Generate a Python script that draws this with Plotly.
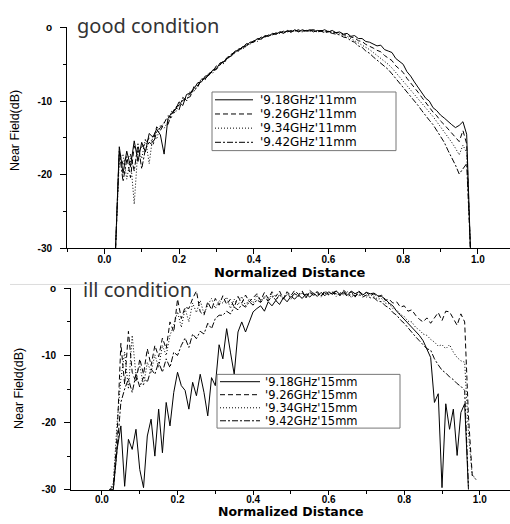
import plotly.graph_objects as go

# ---------------- data ----------------
X_GOOD = [0.03, 0.04, 0.05, 0.06, 0.07, 0.08, 0.09, 0.10, 0.11, 0.12,
          0.13, 0.14, 0.15, 0.16, 0.17, 0.18, 0.19, 0.20, 0.21, 0.22,
          0.23, 0.24, 0.25, 0.26, 0.27, 0.28, 0.29, 0.30, 0.31, 0.32,
          0.33, 0.34, 0.35, 0.36, 0.37, 0.38, 0.39, 0.40, 0.41, 0.42,
          0.43, 0.44, 0.45, 0.46, 0.47, 0.48, 0.49, 0.50, 0.51, 0.52,
          0.53, 0.54, 0.55, 0.56, 0.57, 0.58, 0.59, 0.60, 0.61, 0.62,
          0.63, 0.64, 0.65, 0.66, 0.67, 0.68, 0.69, 0.70, 0.71, 0.72,
          0.73, 0.74, 0.75, 0.76, 0.77, 0.78, 0.79, 0.80, 0.81, 0.82,
          0.83, 0.84, 0.85, 0.86, 0.87, 0.88, 0.89, 0.90, 0.91, 0.92,
          0.93, 0.94, 0.95, 0.96, 0.97, 0.98]

GOOD_918 = [-30, -16.2, -19.8, -16.8, -18.9, -15.4, -18.2, -15.6, -16.9, -14.4,
            -14.9, -13.8, -14.6, -17.2, -12.4, -11.6, -11.2, -10.1, -10.6, -9.1,
            -8.9, -8.3, -7.5, -7.4, -6.6, -6.5, -5.8, -5.6, -4.8, -4.7,
            -4.0, -3.9, -3.2, -3.1, -2.6, -2.5, -2.0, -1.9, -1.5, -1.6,
            -1.1, -1.2, -0.8, -0.9, -0.6, -0.8, -0.4, -0.6, -0.3, -0.6,
            -0.3, -0.5, -0.3, -0.6, -0.4, -0.5, -0.3, -0.6, -0.4, -0.7,
            -0.6, -0.9, -0.8, -1.2, -1.1, -1.5, -1.5, -1.9, -2.0, -2.2,
            -2.5, -2.4, -3.0, -3.2, -3.4, -4.2, -4.6, -5.0, -6.0, -6.6,
            -7.4, -8.1, -8.8, -9.6, -10.0, -10.9, -11.3, -11.9, -12.3, -12.8,
            -13.2, -13.6, -13.3, -12.8, -14.5, -30]
GOOD_926 = [-30, -17.0, -18.6, -17.5, -20.4, -16.1, -17.0, -16.2, -15.8, -15.0,
            -15.6, -13.5, -14.0, -13.1, -12.0, -12.2, -10.8, -10.6, -9.9, -9.6,
            -9.4, -8.0, -7.9, -7.2, -6.9, -6.3, -6.0, -5.2, -5.1, -4.4,
            -4.2, -3.6, -3.4, -2.9, -2.8, -2.2, -2.2, -1.8, -1.7, -1.3,
            -1.3, -1.0, -1.0, -0.7, -0.7, -0.5, -0.6, -0.4, -0.5, -0.3,
            -0.5, -0.4, -0.4, -0.3, -0.5, -0.4, -0.5, -0.5, -0.6, -0.7,
            -0.7, -1.0, -1.0, -1.3, -1.4, -1.8, -1.9, -2.3, -2.5, -2.8,
            -3.1, -3.3, -3.8, -4.1, -4.5, -5.2, -5.6, -6.1, -6.9, -7.5,
            -8.2, -8.8, -9.5, -10.2, -10.8, -11.5, -12.0, -12.7, -13.2, -13.8,
            -14.4, -15.0, -15.5, -14.0, -15.8, -30]
GOOD_934 = [-30, -18.0, -17.2, -20.6, -17.8, -24.0, -16.4, -17.8, -15.1, -18.5,
            -14.6, -15.2, -13.3, -13.7, -12.8, -11.4, -11.6, -10.4, -9.8, -10.0,
            -8.6, -8.7, -7.7, -7.0, -7.1, -6.1, -6.2, -5.5, -4.9, -4.9,
            -4.1, -3.8, -3.5, -2.9, -3.0, -2.3, -2.3, -1.8, -1.9, -1.4,
            -1.3, -1.1, -1.0, -0.8, -0.8, -0.6, -0.5, -0.7, -0.4, -0.5,
            -0.6, -0.4, -0.5, -0.4, -0.6, -0.5, -0.6, -0.5, -0.7, -0.8,
            -0.8, -1.1, -1.2, -1.5, -1.7, -2.1, -2.3, -2.7, -3.0, -3.4,
            -3.8, -4.1, -4.6, -5.0, -5.5, -6.1, -6.6, -7.2, -7.8, -8.4,
            -9.0, -9.6, -10.2, -10.9, -11.5, -12.1, -12.8, -13.5, -14.1, -14.9,
            -15.6, -16.4, -17.3, -16.0, -17.0, -30]
GOOD_942 = [-30, -16.8, -20.9, -18.0, -17.2, -19.5, -15.8, -19.2, -16.5, -15.6,
            -16.0, -14.2, -13.6, -12.9, -13.2, -11.8, -10.9, -11.2, -9.5, -9.9,
            -9.0, -8.5, -8.1, -7.0, -7.0, -6.4, -5.8, -5.7, -5.0, -4.6,
            -4.3, -3.7, -3.3, -3.2, -2.7, -2.6, -2.1, -2.0, -1.6, -1.5,
            -1.2, -1.1, -0.9, -0.9, -0.6, -0.7, -0.5, -0.6, -0.4, -0.5,
            -0.4, -0.5, -0.5, -0.4, -0.6, -0.5, -0.7, -0.6, -0.8, -0.9,
            -1.0, -1.3, -1.4, -1.8, -2.0, -2.5, -2.7, -3.2, -3.5, -4.0,
            -4.4, -4.8, -5.3, -5.7, -6.3, -6.9, -7.5, -8.1, -8.7, -9.3,
            -10.0, -10.6, -11.3, -12.0, -12.6, -13.2, -14.0, -14.8, -15.6, -16.7,
            -17.6, -18.7, -19.9, -19.2, -18.5, -30]

X_ILL = [0.02, 0.03, 0.04, 0.05, 0.06, 0.07, 0.08, 0.09, 0.10, 0.11,
         0.12, 0.13, 0.14, 0.15, 0.16, 0.17, 0.18, 0.19, 0.20, 0.21,
         0.22, 0.23, 0.24, 0.25, 0.26, 0.27, 0.28, 0.29, 0.30, 0.31,
         0.32, 0.33, 0.34, 0.35, 0.36, 0.37, 0.38, 0.39, 0.40, 0.41,
         0.42, 0.43, 0.44, 0.45, 0.46, 0.47, 0.48, 0.49, 0.50, 0.51,
         0.52, 0.53, 0.54, 0.55, 0.56, 0.57, 0.58, 0.59, 0.60, 0.61,
         0.62, 0.63, 0.64, 0.65, 0.66, 0.67, 0.68, 0.69, 0.70, 0.71,
         0.72, 0.73, 0.74, 0.75, 0.76, 0.77, 0.78, 0.79, 0.80, 0.81,
         0.82, 0.83, 0.84, 0.85, 0.86, 0.87, 0.88, 0.89, 0.90, 0.91,
         0.92, 0.93, 0.94, 0.95, 0.96, 0.97, 0.98, 0.99]

ILL_918 = [-30, -30, -24.0, -20.5, -29.5, -22.5, -24.0, -21.0, -27.0, -29.7,
           -22.0, -19.5, -25.0, -18.0, -24.5, -17.0, -20.5, -15.5, -12.5, -14.5,
           -15.2, -18.0, -14.0, -16.0, -12.8, -15.5, -19.0, -13.3, -14.5, -8.4,
           -10.5, -6.0, -9.5, -12.8, -6.5, -5.0, -6.5, -5.0, -3.5, -3.0,
           -2.6, -3.4, -2.0, -2.6, -1.8, -2.4, -1.4, -2.0, -1.2, -1.6,
           -1.0, -1.5, -0.8, -1.3, -0.7, -1.2, -0.6, -1.1, -0.5, -0.9,
           -0.4, -0.9, -0.5, -1.0, -0.4, -0.8, -0.5, -1.0, -0.6, -0.8,
           -0.7, -1.1, -1.2, -1.6, -2.2, -2.6, -3.4, -4.0, -4.6, -5.3,
           -5.8, -6.4, -7.0, -7.8, -9.0, -10.3, -17.0, -15.7, -29.7, -17.2,
           -21.0, -18.0, -24.9, -18.5, -17.2, -30, None, None]
ILL_926 = [-30, -29.5, -22.0, -8.2, -14.3, -6.4, -12.5, -14.0, -10.5, -12.8,
           -9.0, -11.5, -8.5, -10.2, -7.4, -9.0, -5.0, -6.5, -1.6, -4.5,
           -2.8, -3.0, -1.5, -0.4, -3.5, -4.0, -2.0, -3.2, -1.5, -2.5,
           -1.1, -2.4, -1.6, -2.8, -1.2, -2.2, -1.0, -2.0, -1.4, -0.8,
           -1.8, -0.6, -1.5, -0.5, -1.2, -0.4, -1.6, -0.5, -1.1, -0.3,
           -0.9, -0.4, -1.4, -0.3, -0.8, -0.5, -1.2, -0.3, -0.9, -0.6,
           -0.4, -1.1, -0.3, -0.8, -0.5, -1.3, -0.4, -0.9, -0.6, -1.1,
           -0.8, -1.3, -1.0, -1.8, -1.6, -2.2, -2.0, -2.8, -2.6, -3.4,
           -3.2, -4.0, -4.6, -5.0, -4.4, -5.2, -4.4, -3.6, -4.8, -3.4,
           -3.5, -4.6, -5.5, -3.8, -5.0, -19.0, -27.8, -28.5]
ILL_934 = [-30, -29.0, -20.0, -13.5, -9.5, -15.0, -7.0, -13.0, -11.5, -14.5,
           -11.0, -12.5, -9.9, -11.8, -8.5, -10.0, -7.0, -5.5, -3.5, -5.8,
           -3.0, -5.0, -2.2, -3.6, -1.8, -3.8, -2.5, -1.5, -3.0, -1.8,
           -2.2, -1.3, -3.0, -1.6, -2.5, -1.2, -2.6, -1.5, -2.2, -1.0,
           -2.0, -1.1, -1.8, -0.8, -1.9, -0.9, -1.4, -0.6, -1.6, -0.7,
           -1.2, -0.5, -1.5, -0.6, -1.1, -0.4, -1.3, -0.7, -1.0, -0.5,
           -1.2, -0.6, -1.0, -0.5, -1.4, -0.7, -1.1, -0.8, -1.3, -0.9,
           -1.2, -1.6, -1.5, -2.2, -2.3, -3.0, -3.2, -3.9, -4.2, -4.9,
           -5.0, -5.8, -6.2, -6.8, -7.0, -7.6, -8.0, -8.6, -8.4, -9.0,
           -8.4, -9.5, -10.3, -10.8, -11.0, -21.5, -28.0, -28.2]
ILL_942 = [-30, -30, -24.0, -17.0, -15.0, -13.5, -15.5, -12.8, -14.7, -13.2,
           -14.0, -12.0, -12.8, -11.0, -12.5, -10.5, -11.8, -9.5, -10.0, -8.5,
           -7.4, -8.8, -6.8, -7.5, -6.4, -6.8, -5.2, -6.0, -4.5, -4.0,
           -4.0, -3.4, -3.8, -2.8, -3.2, -2.4, -2.8, -2.0, -2.5, -1.7,
           -2.1, -1.4, -1.9, -1.2, -1.7, -1.0, -1.5, -0.9, -1.3, -0.8,
           -1.1, -0.7, -1.2, -0.6, -1.0, -0.8, -1.1, -0.6, -0.9, -0.7,
           -0.8, -1.0, -0.7, -1.2, -0.9, -1.1, -0.8, -1.3, -1.0, -1.4,
           -1.4, -1.9, -2.0, -2.6, -2.9, -3.6, -4.0, -4.7, -5.2, -5.9,
           -6.5, -7.2, -7.8, -8.4, -9.0, -9.2, -10.5, -11.4, -12.2, -12.6,
           -13.2, -13.6, -14.2, -14.6, -15.2, -29.5, None, None]

GOOD_NAMES = ["'9.18GHz'11mm", "'9.26GHz'11mm", "'9.34GHz'11mm", "'9.42GHz'11mm"]
ILL_NAMES = ["'9.18GHz'15mm", "'9.26GHz'15mm", "'9.34GHz'15mm", "'9.42GHz'15mm"]
Y_TICKS = [-30, -20, -10, 0]
Y_TICK_TEXT = ["-30", "-20", "-10", "o"]
X_TICKS = [0.0, 0.2, 0.4, 0.6, 0.8, 1.0]
X_TICK_TEXT = ["0.0", "0.2", "0.4", "0.6", "0.8", "1.0"]

# ---------------- styling ----------------
W, H = 510, 524
DASHES = ["solid", "5px,3px", "1px,2px", "6px,2px,2px,2px"]


def px(x):
    return x / W


def py(y):
    return 1 - y / H


fig = go.Figure()
for ys, name, dash in zip([GOOD_918, GOOD_926, GOOD_934, GOOD_942], GOOD_NAMES, DASHES):
    fig.add_trace(go.Scatter(x=X_GOOD, y=ys, name=name, mode="lines",
                             line=dict(color="black", width=1, dash=dash),
                             xaxis="x", yaxis="y", showlegend=False))
for ys, name, dash in zip([ILL_918, ILL_926, ILL_934, ILL_942], ILL_NAMES, DASHES):
    fig.add_trace(go.Scatter(x=X_ILL, y=ys, name=name, mode="lines",
                             line=dict(color="black", width=1, dash=dash),
                             xaxis="x2", yaxis="y2", showlegend=False,
                             connectgaps=False))

tickfont = dict(family="Liberation Sans", size=10, color="black", weight="bold")


def xaxis(domain, rng, anchor, ticklen, standoff):
    return dict(domain=domain, range=rng, anchor=anchor, showline=True,
                linecolor="black", linewidth=1, showgrid=False, zeroline=False,
                tickmode="array", tickvals=X_TICKS, ticktext=X_TICK_TEXT,
                ticks="outside", ticklen=ticklen, tickwidth=1, tickcolor="black",
                tickfont=tickfont, ticklabelstandoff=standoff,
                minor=dict(ticks="outside", ticklen=3, tickwidth=1, tickcolor="black",
                           dtick=0.1, tick0=0, showgrid=False))


def yaxis(domain, anchor):
    return dict(domain=domain, range=[-30, 0], anchor=anchor, showline=True,
                linecolor="black", linewidth=1, showgrid=False, zeroline=False,
                tickmode="array", tickvals=Y_TICKS, ticktext=Y_TICK_TEXT,
                ticks="outside", ticklen=6, tickwidth=1, tickcolor="black",
                tickfont=tickfont, ticklabelstandoff=6,
                minor=dict(ticks="outside", ticklen=3.5, tickwidth=1, tickcolor="black",
                           dtick=5, tick0=0, showgrid=False))


fig.update_layout(
    width=W, height=H, margin=dict(l=0, r=0, t=0, b=0),
    paper_bgcolor="white", plot_bgcolor="white", showlegend=False,
    xaxis=xaxis([px(67), 1], [-0.1, 1.086], "y", 5, -3),
    yaxis=yaxis([py(248), py(22)], "x"),
    xaxis2=xaxis([px(71), 1], [-0.082, 1.08], "y2", 4, -4),
    yaxis2=yaxis([py(495), py(289)], "x2"),
)

annos = []
shapes = []
# panel labels
annos.append(dict(text="good condition", x=px(75), y=py(20), xanchor="left", yanchor="middle",
                  font=dict(family="Noto Sans", size=20, color="#333")))
annos.append(dict(text="ill condition", x=px(81), y=py(290), xanchor="left", yanchor="middle",
                  font=dict(family="Noto Sans", size=20, color="#333")))
# axis titles
for yc in (128, 392):
    annos.append(dict(text="Near Field(dB)", x=px(15 if yc < 200 else 19), y=py(yc),
                      textangle=-90, xanchor="center", yanchor="middle",
                      font=dict(family="Liberation Sans", size=12.5, color="black")))
for xc, yc, fs in ((290, 273, 13), (291, 517, 12.5)):
    annos.append(dict(text="Normalized Distance", x=px(xc), y=py(yc),
                      xanchor="center", yanchor="middle",
                      font=dict(family="DejaVu Sans", size=fs, color="black", weight="bold")))

# separator line
shapes.append(dict(type="line", xref="paper", yref="paper", x0=px(10), x1=1,
                   y0=py(285), y1=py(285), line=dict(color="#dddddd", width=1)))


# hand-drawn legends (compact, like the original)
def legend(names, box, rows, line_x, text_x, fs):
    x0, x1, y0, y1 = box
    shapes.append(dict(type="rect", xref="paper", yref="paper", x0=px(x0), x1=px(x1),
                       y0=py(y1), y1=py(y0), line=dict(color="#777", width=1),
                       fillcolor="white", layer="above"))
    for name, dash, yr in zip(names, DASHES, rows):
        shapes.append(dict(type="line", xref="paper", yref="paper",
                           x0=px(line_x[0]), x1=px(line_x[1]), y0=py(yr), y1=py(yr),
                           line=dict(color="black", width=1, dash=dash), layer="above"))
        annos.append(dict(text=name, x=px(text_x), y=py(yr), xanchor="left", yanchor="middle",
                          borderpad=0,
                          font=dict(family="DejaVu Sans", size=fs, color="black")))


legend(GOOD_NAMES, (212, 396, 88, 148), (96, 110.5, 125, 139.5), (215, 253), 259, 12)
legend(ILL_NAMES, (217, 400, 377, 432), (384.5, 397.8, 411.2, 424.5), (220, 260), 264, 11.5)

for a in annos:
    a.setdefault("xref", "paper")
    a.setdefault("yref", "paper")
    a["showarrow"] = False
fig.update_layout(annotations=annos, shapes=shapes)

fig.write_html("out.html", config={"displayModeBar": False},
               post_script="document.body.style.margin='0';document.body.style.overflow='hidden';")
